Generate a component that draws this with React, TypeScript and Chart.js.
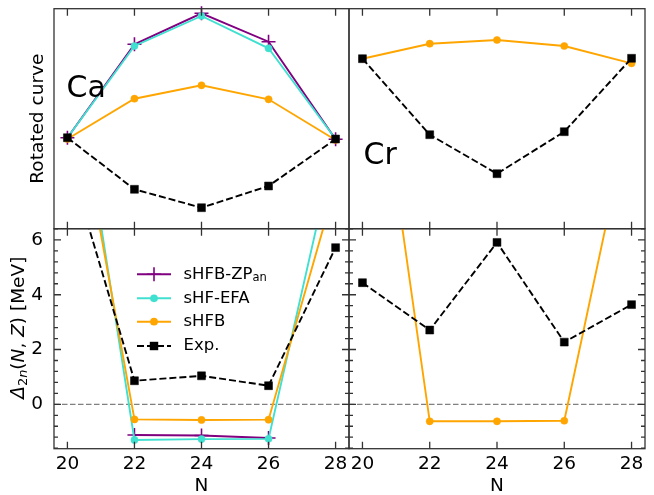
import React, { useEffect, useRef } from 'react';
import { Chart, registerables } from 'chart.js';

Chart.register(...registerables);

// ---------------- data ----------------
const N_VALUES = [20, 22, 24, 26, 28];
const X_TICKS = [20, 22, 24, 26, 28];
const Y_TICKS_BOTTOM = [0, 2, 4, 6];
const Y_MINOR_BOTTOM = [-1.6, -1.2, -0.8, -0.4, 0.4, 0.8, 1.2, 1.6, 2.4, 2.8, 3.2, 3.6, 4.4, 4.8, 5.2, 5.6, 6.4];

// top row: rotated curves (arbitrary units, no ticks)
const CA_ROT_ZPAN = [9.1, 18.44, 21.54, 18.7, 8.94];
const CA_ROT_EFA = [9.1, 18.27, 21.27, 18.04, 8.97];
const CA_ROT_SHFB = [8.97, 13.0, 14.34, 12.94, 8.87];
const CA_ROT_EXP = [9.1, 3.94, 2.1, 4.27, 8.97];
const CR_ROT_SHFB = [17.0, 18.5, 18.87, 18.27, 16.54];
const CR_ROT_EXP = [17.0, 9.4, 5.5, 9.7, 17.04];

// bottom row: Delta_2n(N,Z) [MeV]
const CA_D2N_ZPAN = [null, -1.12, -1.14, -1.23, null];
const CA_D2N_EFA = [14.4, -1.3, -1.27, -1.26, 9.54];
const CA_D2N_SHFB = [12.96, -0.55, -0.57, -0.56, 8.0];
const CA_D2N_EXP = [9.08, 0.86, 1.04, 0.68, 5.72];
const CR_D2N_SHFB = [16.7, -0.62, -0.62, -0.6, 10.9];
const CR_D2N_EXP = [4.44, 2.71, 5.91, 2.27, 3.64];

const SERIES_NAMES = ['sHFB-ZP', 'sHF-EFA', 'sHFB', 'Exp.'];

// ---------------- layout / style ----------------
const W = 654;
const H = 495;
const COLS = [[54, 349], [349, 645]];
const ROWS = [[8.7, 228.7], [228.7, 448.7]];
const X_MIN = 19.6;
const X_MAX = 28.4;
const TOP_Y = [0, 22];
const BOT_Y = [-1.62, 6.41];
const FONT = "'DejaVu Sans', sans-serif";
const SPINE = '#333333';

const STYLE: Record<string, any> = {
  zpan: { color: 'purple', pointStyle: 'cross', radius: 7, pbw: 1.6, dash: [], order: 4 },
  efa: { color: 'turquoise', pointStyle: 'circle', radius: 3.6, pbw: 0.5, dash: [], order: 3 },
  shfb: { color: 'orange', pointStyle: 'circle', radius: 3.6, pbw: 0.5, dash: [], order: 2 },
  exp: { color: '#000000', pointStyle: 'rect', radius: 5.6, pbw: 0.5, dash: [7, 3], order: 1 },
};

function ds(key: string, label: string, vals: (number | null)[], clip: any) {
  const s = STYLE[key];
  return {
    label,
    data: N_VALUES.map((n, i) => ({ x: n, y: vals[i] })),
    borderColor: s.color,
    backgroundColor: s.color,
    borderWidth: 1.9,
    borderDash: s.dash,
    pointStyle: s.pointStyle,
    pointRadius: s.radius,
    pointBorderWidth: s.pbw,
    pointBorderColor: s.color,
    pointBackgroundColor: s.color,
    tension: 0,
    order: s.order,
    clip,
    spanGaps: false,
  };
}

function drawMarker(ctx: CanvasRenderingContext2D, key: string, x: number, y: number) {
  const s = STYLE[key];
  ctx.save();
  ctx.fillStyle = s.color;
  ctx.strokeStyle = s.color;
  ctx.setLineDash([]);
  if (s.pointStyle === 'cross') {
    ctx.lineWidth = s.pbw;
    ctx.beginPath();
    ctx.moveTo(x - s.radius, y);
    ctx.lineTo(x + s.radius, y);
    ctx.moveTo(x, y - s.radius);
    ctx.lineTo(x, y + s.radius);
    ctx.stroke();
  } else if (s.pointStyle === 'circle') {
    ctx.beginPath();
    ctx.arc(x, y, s.radius + 0.25, 0, Math.PI * 2);
    ctx.fill();
  } else {
    const h = s.radius * Math.SQRT1_2 + 0.25;
    ctx.fillRect(x - h, y - h, 2 * h, 2 * h);
  }
  ctx.restore();
}

function makeDeco(col: number, row: number) {
  return {
    id: 'deco' + col + row,
    beforeDatasetsDraw(chart: any) {
      if (row !== 1) return;
      const ctx = chart.ctx;
      const ca = chart.chartArea;
      const py = chart.scales.y.getPixelForValue(0);
      ctx.save();
      ctx.strokeStyle = '#808080';
      ctx.lineWidth = 1.3;
      ctx.setLineDash([5.5, 2.5]);
      ctx.beginPath();
      ctx.moveTo(ca.left, py);
      ctx.lineTo(ca.right, py);
      ctx.stroke();
      ctx.restore();
    },
    afterDraw(chart: any) {
      const ctx: CanvasRenderingContext2D = chart.ctx;
      const ca = chart.chartArea;
      const xs = chart.scales.x;
      const ys = chart.scales.y;
      ctx.save();
      ctx.setLineDash([]);
      ctx.strokeStyle = SPINE;
      ctx.lineWidth = 1.3;
      // ticks
      ctx.beginPath();
      X_TICKS.forEach((v) => {
        const px = xs.getPixelForValue(v);
        ctx.moveTo(px, ca.top);
        ctx.lineTo(px, ca.top + 7);
        ctx.moveTo(px, ca.bottom);
        ctx.lineTo(px, ca.bottom - 7);
      });
      if (row === 1) {
        Y_TICKS_BOTTOM.forEach((v) => {
          const py = ys.getPixelForValue(v);
          ctx.moveTo(ca.left, py);
          ctx.lineTo(ca.left + 7, py);
          ctx.moveTo(ca.right, py);
          ctx.lineTo(ca.right - 7, py);
        });
        Y_MINOR_BOTTOM.forEach((v) => {
          if (v < ys.min || v > ys.max) return;
          const py = ys.getPixelForValue(v);
          ctx.moveTo(ca.left, py);
          ctx.lineTo(ca.left + 4, py);
          ctx.moveTo(ca.right, py);
          ctx.lineTo(ca.right - 4, py);
        });
      }
      ctx.stroke();
      // spines
      ctx.strokeRect(ca.left, ca.top, ca.right - ca.left, ca.bottom - ca.top);

      ctx.fillStyle = '#000';
      // element labels
      if (row === 0) {
        ctx.font = `30px ${FONT}`;
        ctx.textAlign = 'left';
        ctx.textBaseline = 'alphabetic';
        if (col === 0) ctx.fillText('Ca', 66.5, 97);
        else ctx.fillText('Cr', 363.5, 164);
      }

      if (row === 1 && col === 0) {
        // legend
        const keys = ['zpan', 'efa', 'shfb', 'exp'];
        const rowsY = [274.3, 298.3, 321.7, 346];
        keys.forEach((k, i) => {
          const y = rowsY[i];
          const s = STYLE[k];
          ctx.save();
          ctx.strokeStyle = s.color;
          ctx.lineWidth = 1.9;
          ctx.setLineDash(s.dash);
          ctx.beginPath();
          ctx.moveTo(137, y);
          ctx.lineTo(171, y);
          ctx.stroke();
          ctx.restore();
          drawMarker(ctx, k, 154, y);
          ctx.font = `16.5px ${FONT}`;
          ctx.textAlign = 'left';
          ctx.textBaseline = 'middle';
          ctx.fillStyle = '#000';
          ctx.fillText(SERIES_NAMES[i], 183.5, y);
          if (k === 'zpan') {
            const w = ctx.measureText(SERIES_NAMES[i]).width;
            ctx.font = `11.5px ${FONT}`;
            ctx.fillText('an', 183.5 + w, y + 4);
          }
        });

        // y-axis label: Δ_2n(N,Z) [MeV]
        const pieces = [
          { t: 'Δ', it: true, sub: false },
          { t: '2', it: false, sub: true },
          { t: 'n', it: true, sub: true },
          { t: '(', it: false, sub: false },
          { t: 'N', it: true, sub: false },
          { t: ', ', it: false, sub: false },
          { t: 'Z', it: true, sub: false },
          { t: ')', it: false, sub: false },
          { t: ' [MeV]', it: false, sub: false },
        ];
        const fs = 18.5;
        const fontOf = (p: any) => `${p.it ? 'italic ' : ''}${p.sub ? fs * 0.7 : fs}px ${FONT}`;
        let total = 0;
        const widths = pieces.map((p) => {
          ctx.font = fontOf(p);
          const w = ctx.measureText(p.t).width;
          total += w;
          return w;
        });
        ctx.save();
        ctx.translate(19.5, (ca.top + ca.bottom) / 2 - 11);
        ctx.rotate(-Math.PI / 2);
        ctx.textAlign = 'left';
        ctx.textBaseline = 'middle';
        let x = -total / 2;
        pieces.forEach((p, i) => {
          ctx.font = fontOf(p);
          ctx.fillText(p.t, x, p.sub ? 4.5 : 0);
          x += widths[i];
        });
        ctx.restore();
      }
      ctx.restore();
    },
  };
}

function buildConfig(col: number, row: number): any {
  const [l, r] = COLS[col];
  const [t, b] = ROWS[row];
  const clip = row === 0 ? false : undefined;
  let datasets: any[] = [];
  if (row === 0 && col === 0) {
    datasets = [
      ds('zpan', SERIES_NAMES[0], CA_ROT_ZPAN, clip),
      ds('efa', SERIES_NAMES[1], CA_ROT_EFA, clip),
      ds('shfb', SERIES_NAMES[2], CA_ROT_SHFB, clip),
      ds('exp', SERIES_NAMES[3], CA_ROT_EXP, clip),
    ];
  } else if (row === 0 && col === 1) {
    datasets = [
      ds('shfb', SERIES_NAMES[2], CR_ROT_SHFB, clip),
      ds('exp', SERIES_NAMES[3], CR_ROT_EXP, clip),
    ];
  } else if (row === 1 && col === 0) {
    datasets = [
      ds('zpan', SERIES_NAMES[0], CA_D2N_ZPAN, clip),
      ds('efa', SERIES_NAMES[1], CA_D2N_EFA, clip),
      ds('shfb', SERIES_NAMES[2], CA_D2N_SHFB, clip),
      ds('exp', SERIES_NAMES[3], CA_D2N_EXP, clip),
    ];
  } else {
    datasets = [
      ds('shfb', SERIES_NAMES[2], CR_D2N_SHFB, clip),
      ds('exp', SERIES_NAMES[3], CR_D2N_EXP, clip),
    ];
  }
  const yr = row === 0 ? TOP_Y : BOT_Y;
  const xShown = row === 1;
  const yShown = col === 0;
  return {
    type: 'line',
    data: { datasets },
    options: {
      responsive: false,
      animation: false,
      events: [],
      layout: {
        padding: {
          left: yShown ? 0 : l,
          right: W - r,
          top: t,
          bottom: xShown ? 0 : H - b,
        },
      },
      plugins: {
        legend: { display: false },
        tooltip: { enabled: false },
      },
      scales: {
        x: {
          type: 'linear',
          min: X_MIN,
          max: X_MAX,
          display: xShown,
          grid: { display: false, drawTicks: false },
          border: { display: false },
          afterBuildTicks: (s: any) => {
            s.ticks = X_TICKS.map((v) => ({ value: v }));
          },
          ticks: {
            color: '#000',
            padding: 4,
            maxRotation: 0,
            autoSkip: false,
            font: { family: FONT, size: 18.5 },
          },
          title: {
            display: true,
            text: 'N',
            color: '#000',
            padding: { top: 0, bottom: -2 },
            font: { family: FONT, size: 18.5 },
          },
          afterFit: (s: any) => {
            if (xShown) s.height = H - b;
          },
        },
        y: {
          type: 'linear',
          min: yr[0],
          max: yr[1],
          display: yShown,
          grid: { display: false, drawTicks: false },
          border: { display: false },
          afterBuildTicks: (s: any) => {
            s.ticks = row === 1 ? Y_TICKS_BOTTOM.map((v) => ({ value: v })) : [];
          },
          ticks: {
            display: row === 1,
            color: '#000',
            padding: 11,
            autoSkip: false,
            font: { family: FONT, size: 18.5 },
          },
          title: {
            display: row === 0,
            text: 'Rotated curve',
            color: '#000',
            padding: { top: 27.4, bottom: 0 },
            font: { family: FONT, size: 18.5 },
          },
          afterFit: (s: any) => {
            if (yShown) s.width = l;
          },
        },
      },
    },
    plugins: [makeDeco(col, row)],
  };
}

function Panel({ col, row }: { col: number; row: number }) {
  const ref = useRef<HTMLCanvasElement | null>(null);
  useEffect(() => {
    if (!ref.current) return;
    const chart = new Chart(ref.current, buildConfig(col, row));
    return () => chart.destroy();
  }, [col, row]);
  return (
    <canvas
      ref={ref}
      width={W}
      height={H}
      style={{ position: 'absolute', left: 0, top: 0, width: W, height: H }}
    />
  );
}

export default function App() {
  return (
    <div
      style={{
        position: 'fixed',
        left: 0,
        top: 0,
        width: W,
        height: H,
        background: '#ffffff',
        overflow: 'hidden',
      }}
    >
      <Panel col={0} row={0} />
      <Panel col={1} row={0} />
      <Panel col={0} row={1} />
      <Panel col={1} row={1} />
    </div>
  );
}
